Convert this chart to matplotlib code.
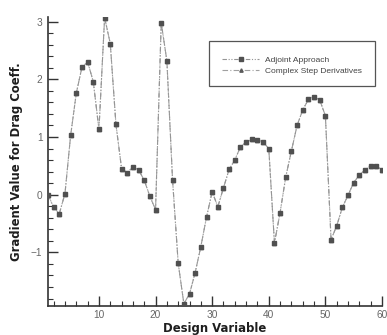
import matplotlib
matplotlib.use("Agg")
import matplotlib.pyplot as plt
from matplotlib.patches import Rectangle
from matplotlib.ticker import MultipleLocator

design_variable = list(range(1, 61))
adjoint = [0.00, -0.22, -0.33, 0.02, 1.03, 1.76, 2.21, 2.30, 1.96, 1.13,
           3.07, 2.62, 1.22, 0.45, 0.38, 0.48, 0.43, 0.25, -0.03, -0.26,
           2.98, 2.32, 0.26, -1.19, -1.89, -1.72, -1.35, -0.90, -0.39, 0.05,
           -0.21, 0.12, 0.44, 0.60, 0.83, 0.91, 0.96, 0.95, 0.91, 0.80,
           -0.84, -0.31, 0.31, 0.76, 1.20, 1.47, 1.65, 1.70, 1.64, 1.37,
           -0.78, -0.54, -0.22, -0.01, 0.21, 0.34, 0.43, 0.50, 0.50, 0.43]
complex_step = [0.00, -0.22, -0.33, 0.02, 1.03, 1.76, 2.21, 2.30, 1.96, 1.13,
                3.07, 2.62, 1.22, 0.45, 0.38, 0.48, 0.43, 0.25, -0.03, -0.26,
                2.98, 2.32, 0.26, -1.19, -1.89, -1.72, -1.35, -0.90, -0.39, 0.05,
                -0.21, 0.12, 0.44, 0.60, 0.83, 0.91, 0.96, 0.95, 0.91, 0.80,
                -0.84, -0.31, 0.31, 0.76, 1.20, 1.47, 1.65, 1.70, 1.64, 1.37,
                -0.78, -0.54, -0.22, -0.01, 0.21, 0.34, 0.43, 0.50, 0.50, 0.43]
series_labels = ["Adjoint Approach", "Complex Step Derivatives"]
x_ticks = [10, 20, 30, 40, 50, 60]
y_ticks = [-1, 0, 1, 2, 3]

plt.rcParams['font.family'] = ['Liberation Sans', 'DejaVu Sans']

fig = plt.figure(figsize=(3.87, 3.35), dpi=100)
ax = fig.add_axes([48/387, 1-306/335, 334/387, 289/335])

ax.plot(design_variable, complex_step, linestyle=(0, (5, 2, 1, 2)), color='#a0a0a0',
        linewidth=0.8, marker='^', markersize=3.0, markerfacecolor='#5a5a5a',
        markeredgecolor='#5a5a5a', label=series_labels[1], zorder=2)
ax.plot(design_variable, adjoint, linestyle=(0, (4, 1.5, 1, 1.5, 1, 1.5)), color='#959595',
        linewidth=0.8, marker='s', markersize=2.9, markerfacecolor='#505050',
        markeredgecolor='#505050', label=series_labels[0], zorder=3)

ax.set_xlim(1, 60)
ax.set_ylim(-1.93, 3.08)
ax.set_xticks(x_ticks)
ax.set_yticks(y_ticks)
ax.xaxis.set_minor_locator(MultipleLocator(2))
ax.yaxis.set_minor_locator(MultipleLocator(0.2))
ax.tick_params(which='major', direction='in', length=7, width=1.0, colors='#333333',
               labelcolor='#666666', labelsize=7.3)
ax.tick_params(which='minor', direction='in', length=3.5, width=0.8, colors='#333333')
ax.tick_params(axis='x', pad=3)
ax.tick_params(axis='y', pad=4)

for s in ['top', 'right']:
    ax.spines[s].set_visible(False)
for s in ['left', 'bottom']:
    ax.spines[s].set_linewidth(1.2)
    ax.spines[s].set_color('#333333')

ax.set_xlabel("Design Variable", fontsize=8.4, fontweight='bold', labelpad=1.5,
              color='#1e1e1e', family='DejaVu Sans')
ax.set_ylabel("Gradient Value for Drag Coeff.", fontsize=8.4, fontweight='bold', labelpad=6,
              color='#1e1e1e', family='DejaVu Sans')

# legend box
rx0, ry0 = 209, 86
w, h = 375 - 209, 86 - 41
rect = Rectangle(((rx0 - 48) / 334, (306 - ry0) / 289), w / 334, h / 289,
                 transform=ax.transAxes, fill=True, facecolor='white',
                 edgecolor='#555555', linewidth=0.9, zorder=4)
rect.set_clip_on(False)
ax.add_patch(rect)
handles, labels = ax.get_legend_handles_labels()
leg = ax.legend(handles[::-1], labels[::-1], loc='center',
                bbox_to_anchor=((292 - 48) / 334, (306 - 65.5) / 289),
                frameon=False, fontsize=6, handlelength=4.4, handletextpad=0.7,
                labelspacing=0.35, markerscale=0.8, borderpad=0.2)
leg.set_zorder(5)
for t in leg.get_texts():
    t.set_color('#444444')

fig.savefig("out.png", dpi=100)
